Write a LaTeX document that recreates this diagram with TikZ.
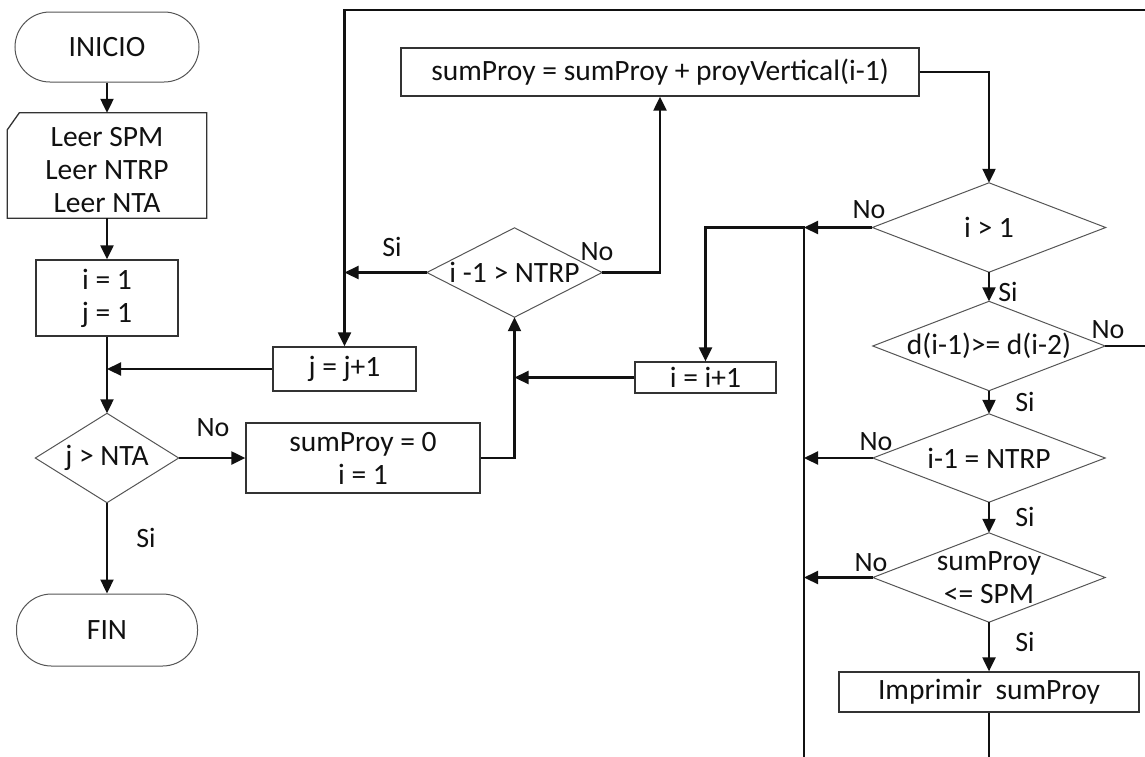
\documentclass[tikz,border=0pt]{standalone}
\usepackage{fontspec}
\setmainfont{Carlito}
\usetikzlibrary{arrows.meta}
\definecolor{ink}{HTML}{111111}
\definecolor{boxline}{HTML}{333333}
\definecolor{dialine}{HTML}{555555}
\begin{document}
\begin{tikzpicture}[x=1pt,y=-1pt,
  every node/.style={font=\fontsize{29.5}{33}\selectfont, text=ink},
  box/.style 2 args={rectangle, draw=boxline, line width=1.3pt, inner sep=0pt,
    align=center, minimum width=#1, minimum height=#2},
  term/.style 2 args={rectangle, draw=dialine, line width=1pt, inner sep=0pt,
    rounded corners=35pt, minimum width=#1, minimum height=#2},
  decision/.style 2 args={rectangle, inner sep=0pt, align=center,
    minimum width=#1, minimum height=#2},
  diaedge/.style={draw=dialine, line width=1pt},
  lbl/.style={font=\fontsize{28}{32}\selectfont, inner sep=0pt},
  link/.style={draw=ink, line width=2.2pt},
  flow/.style={link, -{Triangle[length=14pt,width=13pt]}}
]
\path[use as bounding box] (0,0) rectangle (1145,756);
\clip (0,0) rectangle (1145,756);

% left column
\node[term={184}{70}] (inicio) at (107,47) {INICIO};
\node[rectangle, inner sep=0pt, minimum width=199pt,
      minimum height=105pt] (leer) at (107,165.5) {};
\node[align=center, inner sep=0pt] (leertxt) at (107,170) {Leer SPM\\Leer NTRP\\Leer NTA};
\draw[boxline, line width=1.3pt]
  ([yshift=-17pt]leer.north west) -- ([xshift=12pt]leer.north west)
  -- (leer.north east) -- (leer.south east) -- (leer.south west) -- cycle;
\node[box={142}{76}] (init) at (107,298) {i = 1\\j = 1};
\node[decision={143}{89}] (jnta) at (107,458) {j > NTA};
\node[term={181}{72}] (fin) at (107,630) {FIN};

% middle
\node[box={143}{44}] (jinc) at (344.5,369) {j = j+1};
\node[box={234}{70}] (sum0) at (363,458) {sumProy = 0\\i = 1};
\node[decision={175}{89}] (dntrp) at (514.5,272.5) {i -1 > NTRP};
\node[box={518}{48}] (sumadd) at (660,72) {sumProy = sumProy + proyVertical(i-1)};
\node[box={141}{31}] (iinc) at (705.5,377.5) {i = i+1};

% right column
\node[decision={233}{89}] (igt1) at (989,227.5) {i > 1};
\node[decision={232}{89}] (dcmp) at (989,346) {d(i-1)>= d(i-2)};
\node[decision={232}{88}] (ieq) at (989,458) {i-1 = NTRP};
\node[decision={232}{89}] (sple) at (989,577.5) {sumProy\\<= SPM};
\node[box={300}{40}] (print) at (989,692) {Imprimir\ \ sumProy};

% decision outlines
\foreach \n in {jnta,dntrp,igt1,dcmp,ieq,sple}
  \draw[diaedge] (\n.north) -- (\n.east) -- (\n.south) -- (\n.west) -- cycle;

% helper points for the loops
\coordinate (top) at (jinc.north |- 0,10);
\coordinate (outR) at (1180,10);
\coordinate (rb) at (804,790);
\coordinate (rt) at (rb |- igt1.west);

% connectors
\draw[flow] (inicio.south) -- (leer.north);
\draw[flow] (leer.south) -- (init.north);
\draw[flow] (init.south) -- (jnta.north);
\draw[flow] (jinc.west) -- (jinc.west -| init.south);
\draw[flow] (jnta.east) -- (sum0.west);
\draw[flow] (jnta.south) -- (fin.north);
\draw[flow] (sum0.east) -| (dntrp.south);
\draw[flow] (iinc.west) -- (iinc.west -| dntrp.south);
\draw[flow] (dntrp.west) -- (dntrp.west -| top);
\draw[flow] (dntrp.east) -| (sumadd.south);
\draw[flow] (sumadd.east) -| (igt1.north);
\draw[flow] (igt1.south) -- (dcmp.north);
\draw[flow] (dcmp.south) -- (ieq.north);
\draw[flow] (ieq.south) -- (sple.north);
\draw[flow] (sple.south) -- (print.north);
\draw[flow] (dcmp.east) -| (outR) -- (top) -- (jinc.north);
\draw[flow] (print.south) |- (rb) -- (rt) -| (iinc.north);
\draw[flow] (igt1.west) -- (rt);
\draw[flow] (ieq.west) -- (ieq.west -| rb);
\draw[flow] (sple.west) -- (sple.west -| rb);

% branch labels
\node[lbl] (jntaNo) at (213,428) {No};
\node[lbl] (jntaSi) at (146,538) {Si};
\node[lbl] (dntrpSi) at (392,247) {Si};
\node[lbl] (dntrpNo) at (597,252) {No};
\node[lbl] (igtNo) at (869,210) {No};
\node[lbl] (igtSi) at (1008,292) {Si};
\node[lbl] (dcmpNo) at (1108,330) {No};
\node[lbl] (dcmpSi) at (1025,402) {Si};
\node[lbl] (ieqNo) at (876,442) {No};
\node[lbl] (ieqSi) at (1025,517) {Si};
\node[lbl] (spleNo) at (871,563) {No};
\node[lbl] (spleSi) at (1025,642) {Si};
\end{tikzpicture}
\end{document}
